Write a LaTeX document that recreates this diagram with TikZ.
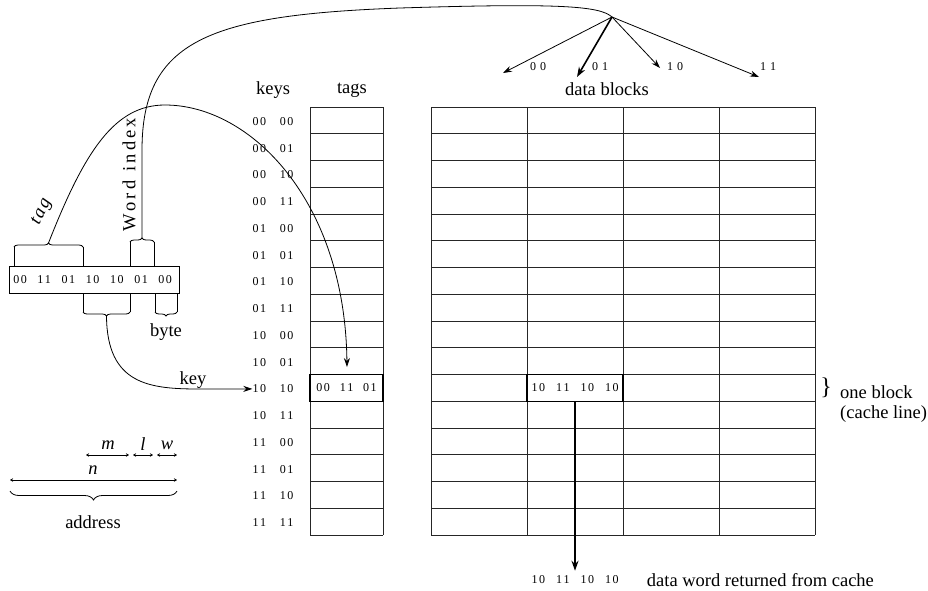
\documentclass[tikz,border=0pt]{standalone}
\usepackage{fontspec}
\setmainfont{Liberation Serif}
\usetikzlibrary{arrows.meta,positioning,calc,decorations.pathreplacing}

\newcommand{\bb}[2]{#1\kern1.5pt#2}

\tikzset{
  txt/.style={font=\fontsize{18.5}{22}\selectfont, inner sep=0pt},
  bits/.style={font=\fontsize{12}{14}\selectfont, inner sep=0pt},
  gridline/.style={line width=0.7pt, black!85},
  hlcell/.style={draw, line width=1.4pt, minimum height=26.75pt, inner sep=0pt,
    font=\fontsize{12}{14}\selectfont},
  addrbox/.style={draw, line width=0.8pt, minimum width=170pt, minimum height=27pt, inner sep=0pt},
  wire/.style={line width=0.8pt},
  pointer/.style={-{Stealth[length=9pt,width=6pt]}, line width=0.8pt},
  bigpointer/.style={-{Stealth[length=10pt,width=7pt]}, line width=1.8pt},
  brace/.style={decorate, decoration={brace, amplitude=4pt}, line width=0.8pt},
  dimline/.style={{Stealth[length=3pt,width=3.5pt]}-{Stealth[length=3pt,width=3.5pt]}, line width=0.8pt}
}

\begin{document}
\begin{tikzpicture}[x=1pt, y=-1pt]
  \useasboundingbox (0,0) rectangle (928,590);

  % tags column and data blocks
  \foreach \r in {0,...,16}{
    \draw[gridline] (310,107+26.75*\r) -- (383,107+26.75*\r);
    \draw[gridline] (431,107+26.75*\r) -- (815,107+26.75*\r);
  }
  \draw[gridline] (310,107) -- (310,535) (383,107) -- (383,535);
  \foreach \c in {0,...,4}{\draw[gridline] (431+96*\c,107) -- (431+96*\c,535);}

  % keys
  \foreach \ka/\kb/\kc/\kd [count=\i from 0] in
    {0/0/0/0,0/0/0/1,0/0/1/0,0/0/1/1,0/1/0/0,0/1/0/1,0/1/1/0,0/1/1/1,
     1/0/0/0,1/0/0/1,1/0/1/0,1/0/1/1,1/1/0/0,1/1/0/1,1/1/1/0,1/1/1/1}
    \node[bits] (k\i) at (273,121.4+26.75*\i) {\bb\ka\kb\hskip14pt\bb\kc\kd};

  \node[txt] (keys) at (273,90) {keys};
  \node[txt] (tags) at (352,90) {tags};
  \node[txt] (blocks) at (607,89) {data blocks};

  % selected tag and word
  \node[hlcell, minimum width=73pt] (tagcell) at (346.5,387.9) {\bb00\hskip10pt\bb11\hskip10pt\bb01};
  \node[hlcell, minimum width=96pt] (datacell) at (575,387.9) {\bb10\hskip11pt\bb11\hskip11pt\bb10\hskip11pt\bb10};

  % address
  \node[addrbox] (addr) at (94,279.5) {};
  \foreach \p/\q [count=\i from 0] in {0/0,1/1,0/1,1/0,1/0,0/1,0/0}
    \node[bits] (a\i) at (20+24.2*\i,280) {\bb\p\q};

  % fields of the address
  \draw[wire] (14,266) -- (14,247) (83,266) -- (83,247);
  \draw[brace] (14,247) -- (83,247);
  \coordinate (tagtip) at (48.5,243);
  \draw[wire] (130,266) -- (130,242) (154,266) -- (154,242);
  \draw[brace] (130,242) -- (154,242);
  \coordinate (wordtip) at (142,238);
  \draw[wire] (83,293) -- (83,312) (130,293) -- (130,312);
  \draw[brace] (130,312) -- (83,312);
  \coordinate (keytip) at (106.5,316);
  \draw[wire] (155,293) -- (155,312) (177,293) -- (177,312);
  \draw[brace] (177,312) -- (155,312);

  \node[txt, rotate=65] (taglbl) at (42,212) {\textit{t\kern2pt a\kern2pt g}};
  \node[txt, rotate=90] (wordlbl) at (129,175) {W\,o\,r\,d\hskip9pt i\,n\,d\,e\,x};
  \node[txt] (bytelbl) at (166,332) {byte};
  \node[txt] (keylbl) at (193,380) {key};

  % connectors
  \coordinate (tagend) at (347,367);
  \coordinate (hub) at (612,17);
  \draw[pointer] (tagtip) .. controls (85,150) and (115,105) .. (165,105)
    .. controls (250,105) and (345,200) .. (tagend);
  \draw[wire] (wordtip) -- (142,150) .. controls (142,40) and (210,15) .. (400,8)
    .. controls (560,3) and (600,6) .. (hub);
  \draw[pointer] (keytip) .. controls (107,385) and (150,389) .. (200,389) -- (k10.west);

  % branches to the data blocks
  \foreach \p/\q/\x/\y/\lx in {0/0/503/73/538,0/1/577/77/600,1/0/660/68/675,1/1/759/77/768}{
    \coordinate (br\p\q) at (\x,\y);
    \node[bits] (bl\p\q) at (\lx,67) {\p\kern4pt\q};
  }
  \draw[pointer] (hub) -- (br00);
  \draw[bigpointer, line width=1.6pt] (hub) -- (br01);
  \draw[pointer] (hub) -- (br10);
  \draw[pointer] (hub) -- (br11);

  % one block
  \node[font=\fontsize{24}{26}\selectfont, inner sep=0pt] (blkbrace) at (826,388) {\}};
  \node[txt, anchor=west] (oneblk) at (840,392) {one block};
  \node[txt, anchor=west] (cacheln) at (840,414) {(cache line)};

  % returned word
  \node[bits] (outword) at (575,580) {\bb10\hskip11pt\bb11\hskip11pt\bb10\hskip11pt\bb10};
  \node[txt, right=28pt of outword] (outtext) {data word returned from cache};
  \draw[bigpointer] (datacell.south) -- ([yshift=5pt]outword.north);

  % widths
  \draw[dimline] (86,455) -- (129,455);
  \draw[dimline] (133,455) -- (153,455);
  \draw[dimline] (157,455) -- (177,455);
  \draw[dimline] (10,480) -- (177,480);
  \node[txt] (mlbl) at (108,445) {\textit{m}};
  \node[txt] (llbl) at (143,444) {\textit{l}};
  \node[txt] (wlbl) at (167,445) {\textit{w}};
  \node[txt] (nlbl) at (93,470) {\textit{n}};
  \draw[brace, decoration={brace, amplitude=9pt}] (177,491) -- (10,491);
  \node[txt] (addrlbl) at (93,522) {address};
\end{tikzpicture}
\end{document}
